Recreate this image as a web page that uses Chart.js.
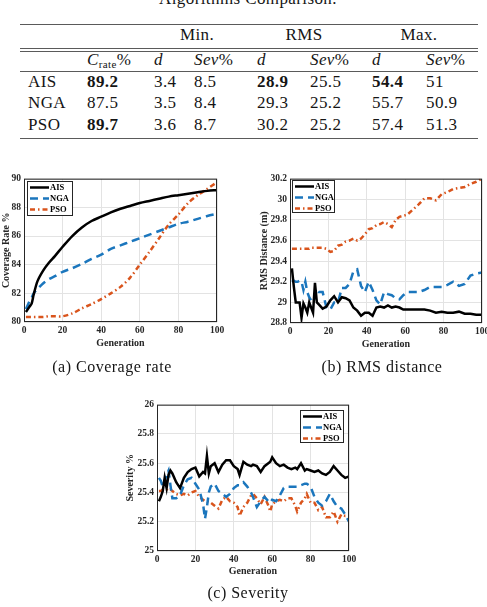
<!DOCTYPE html>
<html>
<head>
<meta charset="utf-8">
<script src="https://cdn.jsdelivr.net/npm/chart.js@4.4.0/dist/chart.umd.min.js"></script>
<style>
  body { margin: 0; background: #fff; }
  #page { position: relative; width: 487px; height: 607px; overflow: hidden; font-family: "Times New Roman", "Liberation Serif", "DejaVu Serif", serif; color: #151515; }
  .t { position: absolute; white-space: nowrap; font-size: 17px; line-height: 20px; letter-spacing: 0.4px; }
  .c { transform: translateX(-50%); }
  .rule { position: absolute; left: 20px; width: 458px; height: 1.3px; background: #5a5a5a; }
  .cap { position: absolute; white-space: nowrap; font-size: 16px; line-height: 18px; letter-spacing: 0.5px; transform: translateX(-50%); }
  canvas { position: absolute; }
  i { font-style: italic; }
  sub { font-size: 11px; font-style: normal; vertical-align: -3px; line-height: 0; }
</style>
</head>
<body>
<div id="page">
  <div class="t c" style="left:248px;top:-11px">Algorithms Comparison.</div>

  <div class="rule" style="top:24px"></div>
  <div class="t c" style="left:197px;top:25px">Min.</div>
  <div class="t c" style="left:304px;top:25px">RMS</div>
  <div class="t c" style="left:419px;top:25px">Max.</div>
  <div class="rule" style="top:48px"></div>
  <div class="rule" style="top:51px"></div>
  <div class="t" style="left:87px;top:50px"><i>C</i><sub>rate</sub>%</div>
  <div class="t" style="left:154px;top:50px"><i>d</i></div>
  <div class="t" style="left:194px;top:50px"><i>Sev</i>%</div>
  <div class="t" style="left:257px;top:50px"><i>d</i></div>
  <div class="t" style="left:310px;top:50px"><i>Sev</i>%</div>
  <div class="t" style="left:372px;top:50px"><i>d</i></div>
  <div class="t" style="left:426px;top:50px"><i>Sev</i>%</div>
  <div class="rule" style="top:71px"></div>
  <div class="rule" style="top:137.5px"></div>

  <canvas id="chartRate" width="235" height="190" style="left:0px;top:170px"></canvas>
  <canvas id="chartRms" width="237" height="190" style="left:258px;top:170px"></canvas>
  <canvas id="chartSev" width="241" height="190" style="left:124px;top:396px"></canvas>

  <div class="cap" style="left:112px;top:358px">(a) Coverage rate</div>
  <div class="cap" style="left:382px;top:358px">(b) RMS distance</div>
  <div class="cap" style="left:248px;top:584px">(c) Severity</div>
</div>

<script>
// ---- table values ----
const algos = ['AIS', 'NGA', 'PSO'];
const cRate = [89.2, 87.5, 89.7];
const minD = [3.4, 3.5, 3.6];
const minSev = [8.5, 8.4, 8.7];
const rmsD = [28.9, 29.3, 30.2];
const rmsSev = [25.5, 25.2, 25.2];
const maxD = [54.4, 55.7, 57.4];
const maxSev = [51, 50.9, 51.3];
// which rows are printed in bold, per column
const boldRows = { cRate: [0, 2], rmsD: [0], maxD: [0] };

// ---- chart values ----
const xTicks = [0, 20, 40, 60, 80, 100];

// (a) coverage rate
const genRate = [1, 3, 4, 5, 7, 10, 13, 16, 20, 25, 30, 35, 40, 45, 50, 55, 60, 65, 70, 75, 80, 85, 90, 95, 100];
const rateAIS = [80.7, 81.1, 81.3, 81.9, 82.85, 83.6, 84.15, 84.6, 85.25, 86.0, 86.6, 87.05, 87.35, 87.65, 87.9, 88.1, 88.3, 88.45, 88.6, 88.75, 88.85, 88.95, 89.05, 89.15, 89.2];
const rateNGA = [80.9, 81.5, 81.7, 82.0, 82.3, 82.7, 83.0, 83.2, 83.5, 83.75, 84.05, 84.4, 84.7, 85.1, 85.35, 85.6, 85.85, 86.1, 86.35, 86.6, 86.85, 87.0, 87.2, 87.4, 87.55];
const ratePSO = [80.35, 80.35, 80.35, 80.35, 80.35, 80.35, 80.4, 80.4, 80.4, 80.6, 80.95, 81.25, 81.6, 82.0, 82.45, 83.1, 84.0, 84.9, 85.85, 86.8, 87.5, 88.3, 88.85, 89.3, 89.75];
const yTicksRate = [80, 82, 84, 86, 88, 90];

// (b) RMS distance
const genRms = [1, 2, 3, 4, 5, 6, 7, 8, 9, 10, 11, 12, 13, 14, 15, 17, 19, 21, 23, 25, 27, 29, 31, 33, 35, 37, 39, 41, 43, 45, 47, 49, 51, 53, 55, 57, 59, 61, 64, 67, 70, 73, 76, 79, 82, 85, 88, 91, 94, 97, 100];
const rmsAIS = [29.33, 29.15, 29.0, 29.0, 29.0, 28.85, 28.99, 28.95, 28.9, 29.0, 28.95, 28.9, 29.19, 29.0, 28.98,
  28.94, 28.96, 29.02, 29.06, 29.0, 29.05, 29.04, 29.02, 28.95, 28.92, 28.87, 28.9, 28.9, 28.87, 28.95, 28.96, 28.95, 28.97, 28.95, 28.96, 28.95, 28.93, 28.93,
  28.93, 28.93, 28.93, 28.92, 28.9, 28.91, 28.9, 28.9, 28.91, 28.89, 28.89, 28.88, 28.88];
const rmsNGA = [29.2, 29.21, 29.2, 29.2, 29.21, 29.2, 29.12, 29.2, 29.1, 29.05, 29.02, 29.0, 29.05, 29.12, 29.1,
  29.1, 28.95, 28.93, 29.0, 29.0, 29.14, 29.14, 29.18, 29.3, 29.32, 29.16, 29.1, 29.2, 29.12, 29.02, 28.98, 29.1, 29.08, 29.07, 29.04, 29.03, 29.07, 29.1,
  29.1, 29.1, 29.12, 29.15, 29.15, 29.15, 29.17, 29.2, 29.16, 29.18, 29.26, 29.28, 29.29];
const rmsPSO = [29.52, 29.52, 29.52, 29.52, 29.52, 29.52, 29.52, 29.52, 29.52, 29.52, 29.53, 29.53, 29.53, 29.53, 29.53,
  29.53, 29.52, 29.49, 29.5, 29.55, 29.56, 29.59, 29.6, 29.62, 29.6, 29.62, 29.66, 29.71, 29.72, 29.75, 29.76, 29.78, 29.76, 29.73, 29.8, 29.83, 29.84, 29.85,
  29.9, 29.95, 30.01, 30.01, 29.99, 30.05, 30.07, 30.1, 30.11, 30.12, 30.15, 30.17, 30.2];
const yTicksRms = [28.8, 29, 29.2, 29.4, 29.6, 29.8, 30, 30.2];

// (c) severity
const genSev = [1, 2, 3, 4, 5, 6, 7, 8, 10, 12, 14, 16, 18, 20, 22, 24, 25, 26, 27, 28, 30, 32, 34, 36, 38, 40, 42, 43, 45, 47, 49, 50,
  52, 54, 56, 58, 59, 60, 62, 64, 66, 68, 70, 72, 73, 75, 77, 78, 80, 82, 84, 86, 88, 90, 92, 94, 96, 98, 100];
const sevAIS = [25.34, 25.37, 25.41, 25.5, 25.43, 25.52, 25.55, 25.53, 25.47, 25.43, 25.5, 25.54, 25.56, 25.57, 25.51, 25.54,
  25.53, 25.65, 25.53, 25.58, 25.6, 25.54, 25.59, 25.62, 25.62, 25.58, 25.56, 25.52, 25.61, 25.59, 25.58, 25.59,
  25.58, 25.54, 25.58, 25.6, 25.61, 25.64, 25.6, 25.58, 25.59, 25.57, 25.56, 25.57, 25.56, 25.6, 25.55, 25.56, 25.55,
  25.54, 25.55, 25.53, 25.52, 25.54, 25.58, 25.55, 25.52, 25.5, 25.51];
const sevNGA = [25.5, 25.48, 25.44, 25.48, 25.52, 25.55, 25.45, 25.36, 25.36, 25.38, 25.45, 25.49, 25.5, 25.46, 25.42, 25.32,
  25.22, 25.3, 25.4, 25.44, 25.46, 25.41, 25.39, 25.37, 25.39, 25.43, 25.45, 25.45, 25.47, 25.44, 25.4, 25.37,
  25.3, 25.34, 25.37, 25.34, 25.33, 25.35, 25.34, 25.38, 25.43, 25.44, 25.44, 25.44, 25.44, 25.45, 25.46, 25.46, 25.44,
  25.37, 25.33, 25.31, 25.34, 25.39, 25.34, 25.3, 25.29, 25.25, 25.2];
const sevPSO = [25.41, 25.41, 25.42, 25.42, 25.42, 25.41, 25.42, 25.41, 25.39, 25.38, 25.39, 25.38, 25.4, 25.41, 25.37, 25.35,
  25.34, 25.34, 25.33, 25.33, 25.31, 25.29, 25.35, 25.37, 25.34, 25.33, 25.3, 25.24, 25.3, 25.33, 25.38, 25.39,
  25.36, 25.32, 25.37, 25.31, 25.27, 25.32, 25.34, 25.35, 25.34, 25.36, 25.36, 25.31, 25.27, 25.33, 25.36, 25.39, 25.33,
  25.33, 25.28, 25.3, 25.23, 25.23, 25.27, 25.2, 25.25, 25.24, 25.24];
const yTicksSev = [25, 25.2, 25.4, 25.6, 25.8, 26];


// ---- table body ----
const page = document.getElementById('page');
const tableCols = [['cRate', cRate], ['minD', minD], ['minSev', minSev], ['rmsD', rmsD], ['rmsSev', rmsSev], ['maxD', maxD], ['maxSev', maxSev]];
const colX = [87, 154, 194, 257, 310, 372, 426];
const rowTop = [71.5, 93.2, 114.9];

function addCell(text, left, top, bold) {
    const el = document.createElement('div');
    el.className = 't';
    el.style.left = left + 'px';
    el.style.top = top + 'px';
    if (bold) el.style.fontWeight = 'bold';
    el.textContent = text;
    page.appendChild(el);
}

algos.forEach((name, r) => {
    addCell(name, 28, rowTop[r], false);
    tableCols.forEach(([key, vals], c) => {
        const bold = (boldRows[key] || []).includes(r);
        addCell(String(vals[r]), colX[c], rowTop[r], bold);
    });
});


// ---- charts ----
const FONT = '"Times New Roman", "Liberation Serif", "DejaVu Serif", serif';
const AXIS_COLOR = '#262626';

const lineStyle = {
    AIS: { color: '#000000', dash: [] },
    NGA: { color: '#1b76bd', dash: [8, 5] },
    PSO: { color: '#d9541c', dash: [5, 3, 1.5, 3] }
};

// MATLAB-like box around the plot plus a legend drawn inside it
const boxLegend = {
    id: 'boxLegend',
    afterDatasetsDraw(chart, args, o) {
        const ctx = chart.ctx;
        const a = chart.chartArea;
        ctx.save();
        ctx.strokeStyle = AXIS_COLOR;
        ctx.lineWidth = 1;
        ctx.setLineDash([]);
        ctx.strokeRect(a.left + 0.5, a.top + 0.5, a.right - a.left - 1, a.bottom - a.top - 1);

        const x0 = o.right ? Math.round(a.right - o.dx - o.w) : Math.round(a.left + o.dx);
        const y0 = Math.round(a.top + o.dy);
        ctx.fillStyle = '#ffffff';
        ctx.fillRect(x0, y0, o.w, o.h);
        ctx.strokeRect(x0 + 0.5, y0 + 0.5, o.w, o.h);

        chart.data.datasets.forEach((ds, i) => {
            const y = y0 + 6.5 + i * 11;
            ctx.strokeStyle = ds.borderColor;
            ctx.lineWidth = ds.borderWidth;
            ctx.setLineDash(ds.borderDash);
            ctx.beginPath();
            ctx.moveTo(x0 + 3, y);
            ctx.lineTo(x0 + 22, y);
            ctx.stroke();
            ctx.setLineDash([]);
            ctx.fillStyle = '#000';
            ctx.font = 'bold 8.5px ' + FONT;
            ctx.textBaseline = 'middle';
            ctx.fillText(ds.label, x0 + 23, y + 0.5);
        });
        ctx.restore();
    }
};

function makeChart(id, gens, series, yTicks, yTitle, pos) {
    const datasets = series.map(([label, values]) => ({
        label: label,
        data: gens.map((g, i) => ({ x: g, y: values[i] })),
        borderColor: lineStyle[label].color,
        borderDash: lineStyle[label].dash,
        borderWidth: 2.5,
        pointRadius: 0,
        tension: pos.smooth ? 0.3 : 0,
        fill: false
    }));

    const tickFont = { family: FONT, weight: 'bold', size: 9.5 };
    const titleFont = { family: FONT, weight: 'bold', size: 10 };

    return new Chart(document.getElementById(id).getContext('2d'), {
        type: 'line',
        data: { datasets: datasets },
        options: {
            responsive: false,
            animation: false,
            layout: { padding: { top: pos.top, right: pos.right, left: 0, bottom: 0 } },
            scales: {
                x: {
                    type: 'linear',
                    min: 0,
                    max: 100,
                    afterBuildTicks: (s) => { s.ticks = xTicks.map(v => ({ value: v })); },
                    afterFit: (s) => { s.height = pos.xh; },
                    grid: { color: '#e3e3e3', drawTicks: false },
                    border: { display: false },
                    ticks: { font: tickFont, color: AXIS_COLOR, padding: 3, maxRotation: 0, autoSkip: false, callback: (v) => String(v) },
                    title: { display: true, text: 'Generation', font: titleFont, color: AXIS_COLOR, padding: { top: 0, bottom: pos.xtp } }
                },
                y: {
                    min: yTicks[0],
                    max: yTicks[yTicks.length - 1],
                    afterBuildTicks: (s) => { s.ticks = yTicks.map(v => ({ value: v })); },
                    afterFit: (s) => { s.width = pos.yw; },
                    grid: { color: '#e3e3e3', drawTicks: false },
                    border: { display: false },
                    ticks: { font: tickFont, color: AXIS_COLOR, padding: 3, autoSkip: false, callback: (v) => String(v) },
                    title: { display: true, text: yTitle, font: titleFont, color: AXIS_COLOR, padding: 0 }
                }
            },
            plugins: {
                legend: { display: false },
                tooltip: { enabled: false },
                boxLegend: pos.legend
            }
        },
        plugins: [boxLegend]
    });
}

makeChart('chartRate', genRate, [['AIS', rateAIS], ['NGA', rateNGA], ['PSO', ratePSO]], yTicksRate, 'Coverage Rate %',
    { top: 7, right: 18, yw: 24, xh: 38, xtp: 11, smooth: true, legend: { dx: 3, dy: 2, w: 45, h: 34, right: false } });

makeChart('chartRms', genRms, [['AIS', rmsAIS], ['NGA', rmsNGA], ['PSO', rmsPSO]], yTicksRms, 'RMS Distance (m)',
    { top: 7, right: 13, yw: 32, xh: 37, xtp: 10, smooth: false, legend: { dx: 2, dy: 1, w: 42, h: 32, right: false } });

makeChart('chartSev', genSev, [['AIS', sevAIS], ['NGA', sevNGA], ['PSO', sevPSO]], yTicksSev, 'Severity %',
    { top: 8, right: 16, yw: 33, xh: 35, xtp: 9, smooth: false, legend: { dx: 6, dy: 5, w: 43, h: 32, right: true } });
</script>
</body>
</html>
